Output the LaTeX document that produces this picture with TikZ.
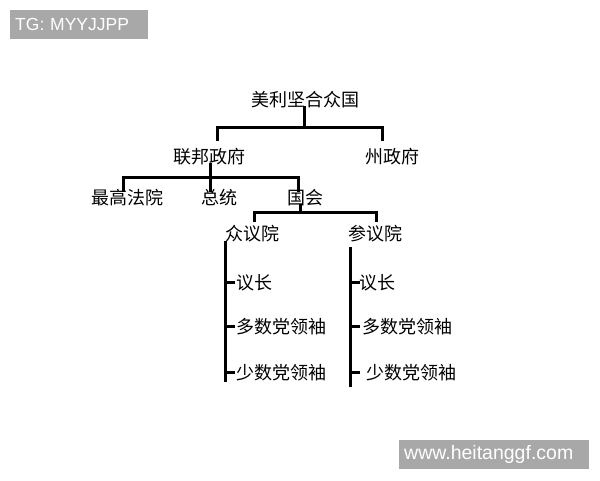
\documentclass[tikz,border=0pt]{standalone}
\usepackage{fontspec}
\setmainfont{Noto Sans CJK SC}
\newfontfamily\tagfont{Liberation Sans}
\definecolor{taggray}{HTML}{A8A8A8}
\begin{document}
\begin{tikzpicture}[x=1pt, y=-1pt,
  label/.style={inner sep=0pt, text height=15pt, text depth=1pt, font=\fontsize{18}{20}\selectfont},
  item/.style={label, anchor=west},
  tree/.style={line width=3pt, line cap=rect},
  tagbox/.style={fill=taggray, text=white, anchor=north west, align=left, inner xsep=5pt, inner ysep=0pt, minimum height=29pt, font=\tagfont\fontsize{17.5}{20}\selectfont}]
\useasboundingbox (0,0) rectangle (600,480);

\node[tagbox, text width=128pt] (tg) at (10,10) {TG: MYYJJPP};
\node[tagbox, text width=180pt, font=\tagfont\fontsize{19.5}{20}\selectfont] (web) at (399,440) {www.heitanggf.com};

\node[label] (usa) at (305,99) {美利坚合众国};
\node[label] (fed) at (209,156) {联邦政府};
\node[label] (state) at (392,156) {州政府};
\node[label] (court) at (127,197) {最高法院};
\node[label] (pres) at (219,197) {总统};
\node[label] (cong) at (305,197) {国会};
\node[label] (house) at (252,233) {众议院};
\node[label] (senate) at (375,233) {参议院};

\coordinate (c1) at (304,127);
\coordinate (c1l) at (217,139);
\coordinate (c1r) at (382,139);
\draw[tree] (usa.south -| c1) -- (c1);
\draw[tree] (c1l) |- (c1) -| (c1r);

\coordinate (c2) at (210,177);
\coordinate (c2l) at (123,190);
\coordinate (c2m) at (210,190);
\coordinate (c2r) at (298,190);
\draw[tree] (fed.south -| c2) -- (c2m);
\draw[tree] (c2l) |- (c2) -| (c2r);

\coordinate (c3) at (300,212);
\coordinate (c3l) at (254,220);
\coordinate (c3r) at (376,220);
\draw[tree] (cong.south -| c3) -- (c3);
\draw[tree] (c3l) |- (c3) -| (c3r);

\coordinate (hs) at (225,242);
\coordinate (he) at (225,380);
\coordinate (ss) at (350,248);
\coordinate (se) at (350,385);
\draw[tree] (hs) -- (he);
\draw[tree] (ss) -- (se);
\foreach \t/\y/\xr [count=\i] in {议长/282/359, 多数党领袖/326/362, 少数党领袖/372/366}
{
\node[item] (h\i) at (236,\y) {\t};
\node[item] (s\i) at (\xr,\y) {\t};
\draw[tree] (hs |- h\i.west) -- ++(8,0);
\draw[tree] (ss |- s\i.west) -- ++(8,0);
}
\end{tikzpicture}
\end{document}
